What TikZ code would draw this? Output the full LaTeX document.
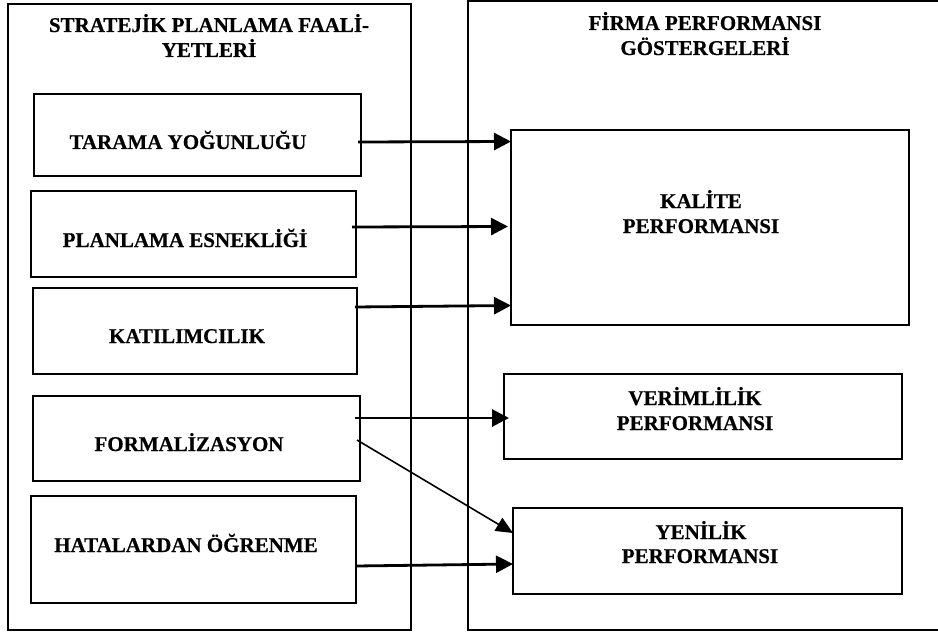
\documentclass[tikz,border=0pt]{standalone}
\usepackage{fontspec}
\setmainfont{Liberation Serif}[BoldFeatures={FakeBold=0.5}]
\usetikzlibrary{arrows.meta}
\begin{document}
\begin{tikzpicture}[x=1pt,y=-1pt,
  frame/.style={draw, line width=1.7pt, rectangle, inner sep=0pt, outer sep=0pt},
  lbl/.style={font=\fontsize{21}{25}\selectfont\bfseries, anchor=base, inner sep=0pt},
  conn/.style={line width=2.8pt, -{Triangle[length=17pt,width=17pt]}},
  thinconn/.style={line width=1.6pt, -{Triangle[length=17pt,width=15pt]}}]
\clip (0,0) rectangle (938,634);
\fill[white] (0,0) rectangle (938,634);
% outer frames
\node[frame, minimum width=403pt, minimum height=626pt] (left) at (209.5,317) {};
\node[frame, minimum width=492pt, minimum height=629pt] (right) at (714,315.5) {};
% left boxes
\node[frame, minimum width=327pt, minimum height=82pt] (tarama) at (197.5,135) {};
\node[frame, minimum width=325pt, minimum height=86pt] (planlama) at (193.5,234) {};
\node[frame, minimum width=324pt, minimum height=86pt] (katil) at (195,331) {};
\node[frame, minimum width=327pt, minimum height=85pt] (formal) at (196.5,438.5) {};
\node[frame, minimum width=325pt, minimum height=107pt] (hatalar) at (193.5,549.5) {};
% right boxes
\node[frame, minimum width=398pt, minimum height=195pt] (kalite) at (710,227.5) {};
\node[frame, minimum width=398pt, minimum height=85pt] (verim) at (703,416.5) {};
\node[frame, minimum width=389pt, minimum height=86pt] (yenilik) at (707.5,551) {};
% texts
\node[lbl] (lt1) at (209,32) {STRATEJİK PLANLAMA FAALİ-};
\node[lbl] (lt2) at (209,57) {YETLERİ};
\node[lbl] (rt1) at (705,30) {FİRMA PERFORMANSI};
\node[lbl] (rt2) at (705,55) {GÖSTERGELERİ};
\node[lbl] (t1) at (188,149) {TARAMA YOĞUNLUĞU};
\node[lbl] (t2) at (185,247) {PLANLAMA ESNEKLİĞİ};
\node[lbl] (t3) at (187,343) {KATILIMCILIK};
\node[lbl] (t4) at (189,451) {FORMALİZASYON};
\node[lbl] (t5) at (186,552) {HATALARDAN ÖĞRENME};
\node[lbl] (k1) at (701,208) {KALİTE};
\node[lbl] (k2) at (701,233) {PERFORMANSI};
\node[lbl] (v1) at (695,405) {VERİMLİLİK};
\node[lbl] (v2) at (695,430) {PERFORMANSI};
\node[lbl] (y1) at (701,539) {YENİLİK};
\node[lbl] (y2) at (700,563) {PERFORMANSI};
% connectors
\draw[conn] ([xshift=-3pt,yshift=-7pt]tarama.east) -- ([yshift=86pt]kalite.west);
\draw[conn] ([xshift=-4pt,yshift=7pt]planlama.east) -- ([xshift=-3pt,yshift=1pt]kalite.west);
\draw[conn] ([xshift=-2pt,yshift=24pt]katil.east) -- ([yshift=-78pt]kalite.west);
\draw[conn] ([xshift=-5pt,yshift=20.5pt]formal.east) -- ([xshift=5pt,yshift=-1.5pt]verim.west);
\draw[thinconn] ([xshift=-3pt,yshift=-1.5pt]formal.east) -- ([yshift=18pt]yenilik.west);
\draw[conn] ([yshift=-16.5pt]hatalar.east) -- ([yshift=-13pt]yenilik.west);
\end{tikzpicture}
\end{document}
